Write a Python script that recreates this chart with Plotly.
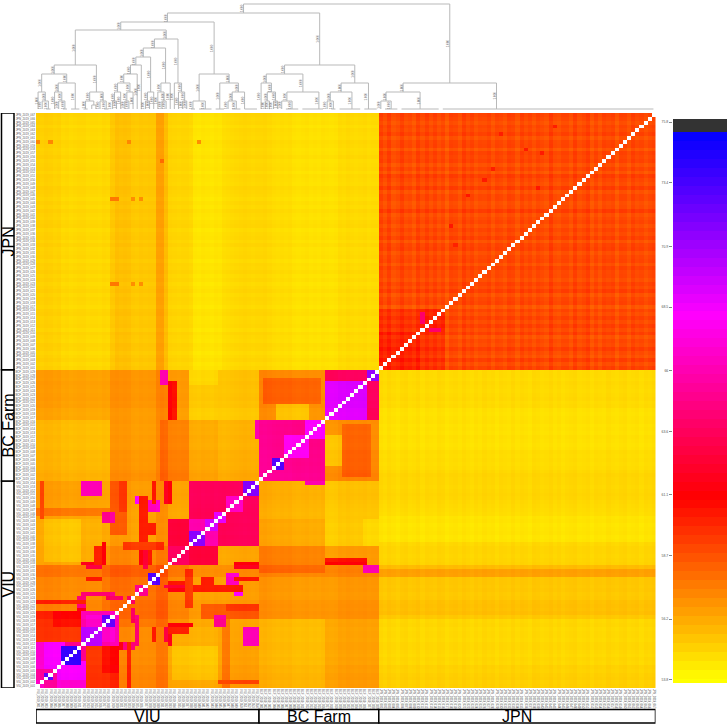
import numpy as np
import plotly.graph_objects as go

group_names = ["VIU", "BC Farm", "JPN"]
group_sizes = [54, 29, 67]
colorbar_ticks = [53.8, 56.2, 58.7, 61.1, 63.6, 66, 68.5, 70.9, 73.4, 75.8]

# (first leaf, last leaf, first leaf, last leaf, similarity); mirrored
block_values = [
    (0, 149, 0, 149, 54.85),
    (83, 149, 83, 149, 58.9),
    (83, 98, 83, 98, 59.5),
    (83, 92, 83, 92, 60.0),
    (93, 98, 93, 98, 59.9),
    (19, 29, 83, 149, 55.1),
    (30, 37, 83, 149, 54.9),
    (38, 44, 83, 149, 54.6),
    (54, 82, 83, 149, 54.75),
    (29, 30, 83, 149, 55.6),
]
viu_blocks = [
    (0, 53, 0, 53, 56.7), (32, 43, 0, 15, 56.0), (33, 43, 2, 10, 55.3), (37, 53, 16, 36, 56.2),
    (44, 53, 0, 15, 56.3), (45, 46, 0, 18, 57.6), (44, 53, 1, 1, 58.8), (16, 31, 16, 31, 57.2),
    (18, 21, 40, 53, 58.0), (12, 19, 0, 11, 59.3), (16, 19, 4, 11, 60.4),
    (0, 11, 0, 11, 64.8), (0, 5, 5, 11, 66.5), (2, 6, 5, 11, 68.0), (6, 10, 6, 10, 73.8),
    (2, 3, 2, 3, 72.0), (0, 1, 0, 1, 66.0),
    (11, 19, 11, 19, 65.5), (11, 15, 11, 15, 70.0), (16, 18, 16, 18, 72.0), (16, 18, 12, 15, 66.5),
    (22, 23, 22, 23, 63.0), (24, 26, 24, 26, 64.5), (27, 29, 27, 29, 72.0),
    (32, 36, 32, 36, 63.5), (37, 53, 37, 53, 63.5), (32, 36, 37, 43, 62.6),
    (37, 43, 37, 43, 66.0), (37, 40, 37, 40, 71.5), (41, 43, 41, 43, 69.5),
    (43, 45, 43, 45, 69.0), (46, 49, 46, 49, 66.5), (50, 53, 50, 53, 71.5),
    (50, 53, 11, 15, 66.0), (43, 45, 16, 18, 65.0), (48, 49, 24, 26, 68.0), (46, 48, 27, 29, 66.0),
    (36, 36, 27, 28, 69.0), (32, 32, 11, 15, 61.5), (32, 32, 50, 53, 62.0),
    (24, 24, 11, 18, 64.0), (26, 26, 31, 36, 62.0),
]
viu_lines = [
    (46, 53, 20, 21, 59.0), (48, 53, 28, 28, 60.0), (48, 53, 31, 32, 61.0), (32, 37, 16, 16, 61.0),
    (32, 37, 25, 25, 61.0), (32, 37, 27, 27, 60.0), (40, 42, 27, 28, 60.0), (20, 23, 10, 11, 61.0),
    (17, 20, 23, 23, 63.0), (12, 15, 31, 31, 62.0), (12, 15, 28, 28, 60.0), (10, 11, 21, 23, 64.0),
    (0, 11, 22, 22, 59.5), (21, 30, 36, 37, 59.0), (25, 26, 38, 49, 60.0), (14, 15, 32, 36, 60.0),
]
bc_blocks = [
    (54, 69, 44, 53, 56.0), (54, 69, 37, 43, 56.3), (54, 69, 30, 36, 57.3),
    (70, 82, 44, 53, 55.4), (70, 78, 37, 43, 55.3), (70, 82, 30, 36, 56.5),
    (54, 82, 18, 29, 56.4), (54, 69, 0, 17, 55.7), (70, 82, 0, 17, 56.3),
    (70, 79, 32, 32, 61.0), (70, 79, 33, 33, 60.4),
    (65, 69, 53, 53, 66.0), (79, 82, 30, 31, 65.0),
    (54, 69, 54, 69, 65.0), (60, 65, 60, 65, 68.0), (65, 69, 65, 69, 68.5), (57, 59, 57, 59, 73.0),
    (70, 82, 54, 69, 57.0), (74, 80, 55, 68, 58.2), (70, 73, 58, 65, 55.6),
    (70, 82, 70, 82, 63.5), (70, 79, 70, 79, 69.0), (80, 82, 80, 82, 71.0),
]
# (row, column, similarity): single darker cells, not mirrored
hot_cells = [
    (142, 0, 57.2), (142, 3, 57.2), (142, 22, 57.2), (142, 39, 57.0), (137, 30, 58.0),
    (127, 18, 57.6), (127, 19, 57.6), (127, 23, 57.0), (127, 25, 57.0),
    (105, 18, 57.6), (105, 19, 57.6), (105, 23, 57.0), (105, 25, 57.0),
    (96, 93, 64.0), (95, 93, 64.0), (97, 93, 64.0), (93, 95, 64.0), (93, 96, 64.0), (93, 97, 64.0),
    (120, 100, 60.4), (135, 110, 60.2), (128, 104, 60.4), (140, 118, 60.3), (146, 125, 60.2),
    (132, 108, 60.3), (115, 101, 60.1), (139, 122, 60.3), (144, 112, 60.2), (130, 121, 60.4),
]
viu_bias = [
    .30, .25, .35, .30, .20, .25, .05, .10, .00, .05, .10, .10, .00, .05, .05, .00, .10, .05,
    .50, .55, .45, .50, .45, .25, .20, .30, .25, .30, .30, .85, .90, .80, .15, .10, .05, .10, .10,
    .00, -.05, -.10, .00, -.05, -.10, .00, -.05, -.10, -.05, .00, .05, .10, .15, .10, .05, .10,
]
bc_bias = [
    .20, .25, .15, .05, .00, .05, .00, .05, -.10, -.15, -.10, -.05, -.15, -.10, -.15, -.05, -.10, -.15, -.10,
    .10, .05, .15, .10, .05, .10, .15, .05, .10, .10,
]
jpn_bias = [
    .05, -.05, .10, .00, -.10, .05, .10, -.05, .00, .10, -.10, .05, .00, -.05, .10, .05, -.10, .00, .05, -.05,
    .10, .00, -.10, .05, -.05, .10, .00, .05, -.10, .05, .00, -.05, .10, -.05, .05, .00, -.10, .10, .05, -.05,
    .00, .10, -.05, .05, -.10, .00, .05, .10, -.05, .00, .05, -.10, .05, .00, -.05, .10, .00, -.05, .05,
    .10, -.05, .00, .05, -.10, .05, .00, .10,
]
jpn_speckle = [
    .2, -.1, .25, -.25, .05, .3, -.2, .1, -.3, .2, .0, .25, -.1, .3, -.25, .1,
    -.3, .2, .05, -.2, .25, -.05, .3, -.25, .1, -.1, .2, -.3, .25, .0, -.2, .3,
    .05, -.25, .2, -.1, .25, -.3, .1, .05, -.2, .3, -.05, -.25, .2, .1, -.3, .25,
    -.1, .05, .3, -.2, .1, -.25, .25, -.05, .2, -.3, .1, .0, -.2, .25, -.1, .2, -.25, .05, .1,
]

# dendrogram: (merge height, left, right); an int is that many tied leaves, [n, k] a tie drawn from leaf k
viu_a1 = (44, (35, (17, 1, (8, 1, 2)), (26, (17, 1, (8, 1, 2)), 3)), (17, (8, 2, (4, 1, 1)), (8, 1, 2)))
viu_a2 = (70, (61, (52, (44, (35, (26, (17, (8, 1, 1), 1), (17, (8, 1, 1), 1)), 1), 1), (17, (8, 1, 1), 1)),
               (26, (17, 1, (8, 1, 1)), 1)), (26, 1, (17, 1, (8, 1, 1))))
viu_b = (35, (8, 2, 4), (26, 3, (17, (8, 1, [3, 1]), [4, 0])))
viu_tree = (87, (79, viu_a1, viu_a2), viu_b)
bc_tree = (44, (35, (26, 1, (17, (8, 1, 1), (8, 1, 1))), (17, (8, 1, 4), [6, 4])),
           (26, (17, (8, 1, 2), [6, 3]), [4, 1]))
jpn_tree = (26, (17, (8, 1, 4), 10), [52, 13])
tree = (105, (96, viu_tree, bc_tree), jpn_tree)

n_leaves = sum(group_sizes)
M = np.zeros((n_leaves, n_leaves))
for a, b, c, d, v in block_values + viu_blocks + viu_lines + bc_blocks:
    M[a:b + 1, c:d + 1] = v
    M[c:d + 1, a:b + 1] = v
bias = np.array(viu_bias + bc_bias + jpn_bias)
M = M + bias[:, None] + bias[None, :]
sp = np.array(jpn_speckle)
M[83:, 83:] += sp[:, None] + sp[None, :]
for i, j, v in hot_cells:
    M[i, j] = v
np.fill_diagonal(M, 100)

ZMIN, ZMAX = 53.8, 100.0
def stop(v):
    return (v - ZMIN) / (ZMAX - ZMIN)
colorscale = [
    [0, "#ffff00"], [stop(61.0), "#ff0000"], [stop(68.2), "#ff00ff"], [stop(75.4), "#0000ff"],
    [stop(75.45), "#333333"], [stop(99), "#333333"], [1, "#ffffff"],
]

# dendrogram layout
seg_x, seg_y, stems = [], [], []
cursor = [0]
def layout(node):
    if isinstance(node, tuple):
        h, l, r = node
        xl, hl = layout(l)
        xr, hr = layout(r)
        seg_x.extend([xl, xl, xr, xr, None])
        seg_y.extend([hl, h, h, hr, None])
        for x0, h0 in ((xl, hl), (xr, hr)):
            if h - h0 >= 6:
                stems.append((x0, (h + h0) / 2))
        return (xl + xr) / 2, h
    n, k = (node, None) if isinstance(node, int) else node
    first = cursor[0]
    cursor[0] += n
    if n > 1:
        seg_x.extend([first, first + n - 1, None])
        seg_y.extend([0, 0, None])
    return (first + (n - 1) / 2 if k is None else first + k), 0
layout(tree)
assert cursor[0] == n_leaves

labels = []
for g, s in zip(group_names, group_sizes):
    tag = {"VIU": "VIU", "BC Farm": "BCF", "JPN": "JPN"}[g]
    labels += [f"{tag}_2019_{k + 1:03d}" for k in range(s)]
idx = list(range(n_leaves))

W, H = 727, 726
fig = go.Figure()
fig.add_trace(go.Heatmap(z=M.round(2).tolist(), x=idx, y=idx, colorscale=colorscale, zmin=ZMIN, zmax=ZMAX,
                         showscale=False, hoverinfo="skip"))
fig.add_trace(go.Scatter(x=seg_x, y=seg_y, xaxis="x2", yaxis="y2", mode="lines",
                         line=dict(color="#b9b9b9", width=1), hoverinfo="skip", showlegend=False))
levels = np.linspace(53.68, 75.92, 64)
fig.add_trace(go.Heatmap(z=[[v] for v in levels], x=[0], y=levels.tolist(), xaxis="x3", yaxis="y3",
                         colorscale=colorscale, zmin=ZMIN, zmax=ZMAX, showscale=False, hoverinfo="skip"))

annotations = [dict(x=x, y=y, xref="x2", yref="y2", text="1.000", textangle=-90, showarrow=False,
                    xshift=-2, font=dict(size=3, color="#666666", family="Liberation Sans")) for x, y in stems]
shapes = []
start = 0
for g, s in zip(group_names, group_sizes):
    a, b = start - 0.5, start + s - 0.5
    mid = (a + b) / 2
    start += s
    shapes.append(dict(type="rect", xref="paper", yref="y", x0=1.5 / W, x1=14 / W, y0=a, y1=b,
                       line=dict(color="black", width=1.5), fillcolor="white"))
    shapes.append(dict(type="rect", xref="x", yref="paper", x0=a, x1=b, y0=1 - 723 / H, y1=1 - 709.5 / H,
                       line=dict(color="black", width=1.5), fillcolor="white"))
    annotations.append(dict(x=8 / W, y=mid, xref="paper", yref="y", text=g, textangle=-90, showarrow=False,
                            xanchor="center", yanchor="middle",
                            font=dict(size=16, color="black", family="Liberation Sans")))
    annotations.append(dict(x=mid, y=1 - 716.5 / H, xref="x", yref="paper", text=g, showarrow=False,
                            xanchor="center", yanchor="middle",
                            font=dict(size=16, color="black", family="Liberation Sans")))

tick_font = dict(size=2.8, color="#555555", family="Liberation Sans")
fig.update_layout(
    width=W, height=H, autosize=False, margin=dict(l=0, r=0, t=0, b=0),
    paper_bgcolor="white", plot_bgcolor="white", showlegend=False,
    xaxis=dict(domain=[36 / W, 655.5 / W], range=[-0.5, n_leaves - 0.5], tickmode="array", tickvals=idx,
               ticktext=labels, tickangle=90, tickfont=tick_font, ticks="", showgrid=False, zeroline=False),
    yaxis=dict(domain=[1 - 688 / H, 1 - 113 / H], range=[-0.5, n_leaves - 0.5], tickmode="array", tickvals=idx,
               ticktext=labels, tickfont=tick_font, ticks="", showgrid=False, zeroline=False),
    xaxis2=dict(domain=[36 / W, 655.5 / W], range=[-0.5, n_leaves - 0.5], visible=False, anchor="y2"),
    yaxis2=dict(domain=[1 - 110 / H, 1], range=[-1, 109], visible=False, anchor="x2"),
    xaxis3=dict(domain=[673 / W, 1], visible=False, anchor="y3"),
    yaxis3=dict(domain=[1 - 683 / H, 1 - 119 / H], range=[53.68, 75.92], anchor="x3", side="left",
                tickmode="array", tickvals=colorbar_ticks, ticktext=[str(t) for t in colorbar_ticks],
                ticks="outside", ticklen=3, tickcolor="#888888", tickfont=dict(size=3.5, color="#555555", family="Liberation Sans"),
                showgrid=False, zeroline=False, showline=False),
    shapes=shapes, annotations=annotations,
)
fig.write_html("out.html", config={"displayModeBar": False},
               post_script="document.body.style.margin='0';document.documentElement.style.overflow='hidden';")
